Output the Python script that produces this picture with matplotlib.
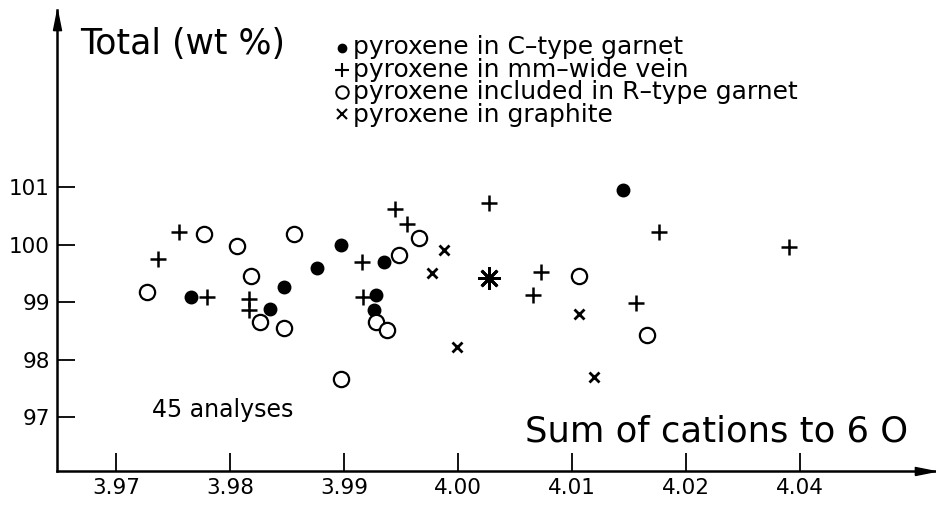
import matplotlib
matplotlib.use('Agg')
import matplotlib.pyplot as plt
from matplotlib.lines import Line2D
from matplotlib.path import Path

plt.rcParams['font.family'] = ['DejaVu Sans']

# ---- data ----
c_type_x = [3.9766, 3.9835, 3.9847, 3.9876, 3.9897, 3.9935, 3.9928, 3.9926, 4.0145]
c_type_y = [99.08, 98.88, 99.27, 99.60, 99.99, 99.70, 99.12, 98.86, 100.95]

vein_x = [3.9755, 3.9737, 3.9780, 3.9817, 3.9817, 3.9916, 3.9917, 3.9945, 3.9955,
          4.0027, 4.0073, 4.0066, 4.0176, 4.0156, 4.0290]
vein_y = [100.22, 99.75, 99.08, 99.06, 98.87, 99.69, 99.09, 100.61, 100.35,
          100.72, 99.53, 99.12, 100.21, 98.98, 99.95]

r_type_x = [3.9727, 3.9777, 3.9806, 3.9818, 3.9826, 3.9847, 3.9856, 3.9897, 3.9948,
            3.9966, 3.9928, 3.9938, 4.0106, 4.0166]
r_type_y = [99.18, 100.18, 99.98, 99.46, 98.65, 98.54, 100.19, 97.67, 99.81,
            100.11, 98.65, 98.51, 99.45, 98.43]

graphite_x = [3.9988, 3.9977, 3.9999, 4.0106, 4.0119]
graphite_y = [99.90, 99.50, 98.21, 98.79, 97.69]

mean_x = [4.0027]
mean_y = [99.41]

xtick_pos = [3.97, 3.98, 3.99, 4.00, 4.01, 4.02, 4.03]
xtick_labels = ['3.97', '3.98', '3.99', '4.00', '4.01', '4.02', '4.04']
ytick_pos = [97, 98, 99, 100, 101]
ytick_labels = ['97', '98', '99', '100', '101']

legend_labels = ['pyroxene in C\u2013type garnet',
                 'pyroxene in mm\u2013wide vein',
                 'pyroxene included in R\u2013type garnet',
                 'pyroxene in graphite']

# ---- figure ----
W, H = 937, 508
fig = plt.figure(figsize=(W / 100, H / 100), dpi=100)
L, R, B, T = 57, 935, 471, 10
ax = fig.add_axes([L / W, (H - B) / H, (R - L) / W, (B - T) / H])

ax.plot(c_type_x, c_type_y, 'o', color='black', ms=9, ls='none')
ax.plot(vein_x, vein_y, '+', color='black', ms=12, mew=1.8, ls='none')
ax.plot(r_type_x, r_type_y, 'o', mfc='white', mec='black', ms=11, mew=1.6, ls='none')
ax.plot(graphite_x, graphite_y, 'x', color='black', ms=7.5, mew=2.0, ls='none')
ax.plot(mean_x, mean_y, marker=(8, 2, 0), color='black', ms=16, mew=2.0, ls='none')

ax.set_xlim(3.96482, 4.04184)
ax.set_ylim(96.061, 104.08)

for s in ['top', 'right']:
    ax.spines[s].set_visible(False)
for s in ['left', 'bottom']:
    ax.spines[s].set_linewidth(1.8)

ax.set_xticks(xtick_pos)
ax.set_xticklabels(xtick_labels)
ax.set_yticks(ytick_pos)
ax.set_yticklabels(ytick_labels)
ax.tick_params(direction='in', length=13, width=1.3, labelsize=15.5, pad=5)

# arrow heads
xarrow = Path([(-2, -0.4), (0, 0), (-2, 0.4), (-2, -0.4)])
yarrow = Path([(-0.4, -2), (0, 0), (0.4, -2), (-0.4, -2)])
ax.plot([1], [0], marker=xarrow, ms=29, color='black', transform=ax.transAxes, clip_on=False)
ax.plot([0], [1], marker=yarrow, ms=29, color='black', transform=ax.transAxes, clip_on=False)


def fx(px):
    return px / W


def fy(py):
    return (H - py) / H


fig.text(fx(80), fy(44), 'Total (wt %)', fontsize=25, va='center', ha='left')
fig.text(fx(152), fy(410), '45 analyses', fontsize=17, va='center', ha='left')
fig.text(fx(525), fy(431), 'Sum of cations to 6 O', fontsize=25.5, va='center', ha='left')

# legend: symbols + one multi-line text block
rows = [48, 70, 92, 114]
styles = [dict(marker='o', color='black', ms=6),
          dict(marker='+', color='black', ms=10, mew=1.5),
          dict(marker='o', mfc='white', mec='black', ms=9, mew=1.4),
          dict(marker='x', color='black', ms=6.5, mew=1.5)]
for yy, st in zip(rows, styles):
    fig.add_artist(Line2D([fx(342)], [fy(yy)], ls='none', transform=fig.transFigure, **st))
fig.text(fx(353), fy((rows[0] + rows[-1]) / 2), '\n'.join(legend_labels),
         fontsize=18, va='center', ha='left', linespacing=0.944)

fig.savefig('out.png', dpi=100)
